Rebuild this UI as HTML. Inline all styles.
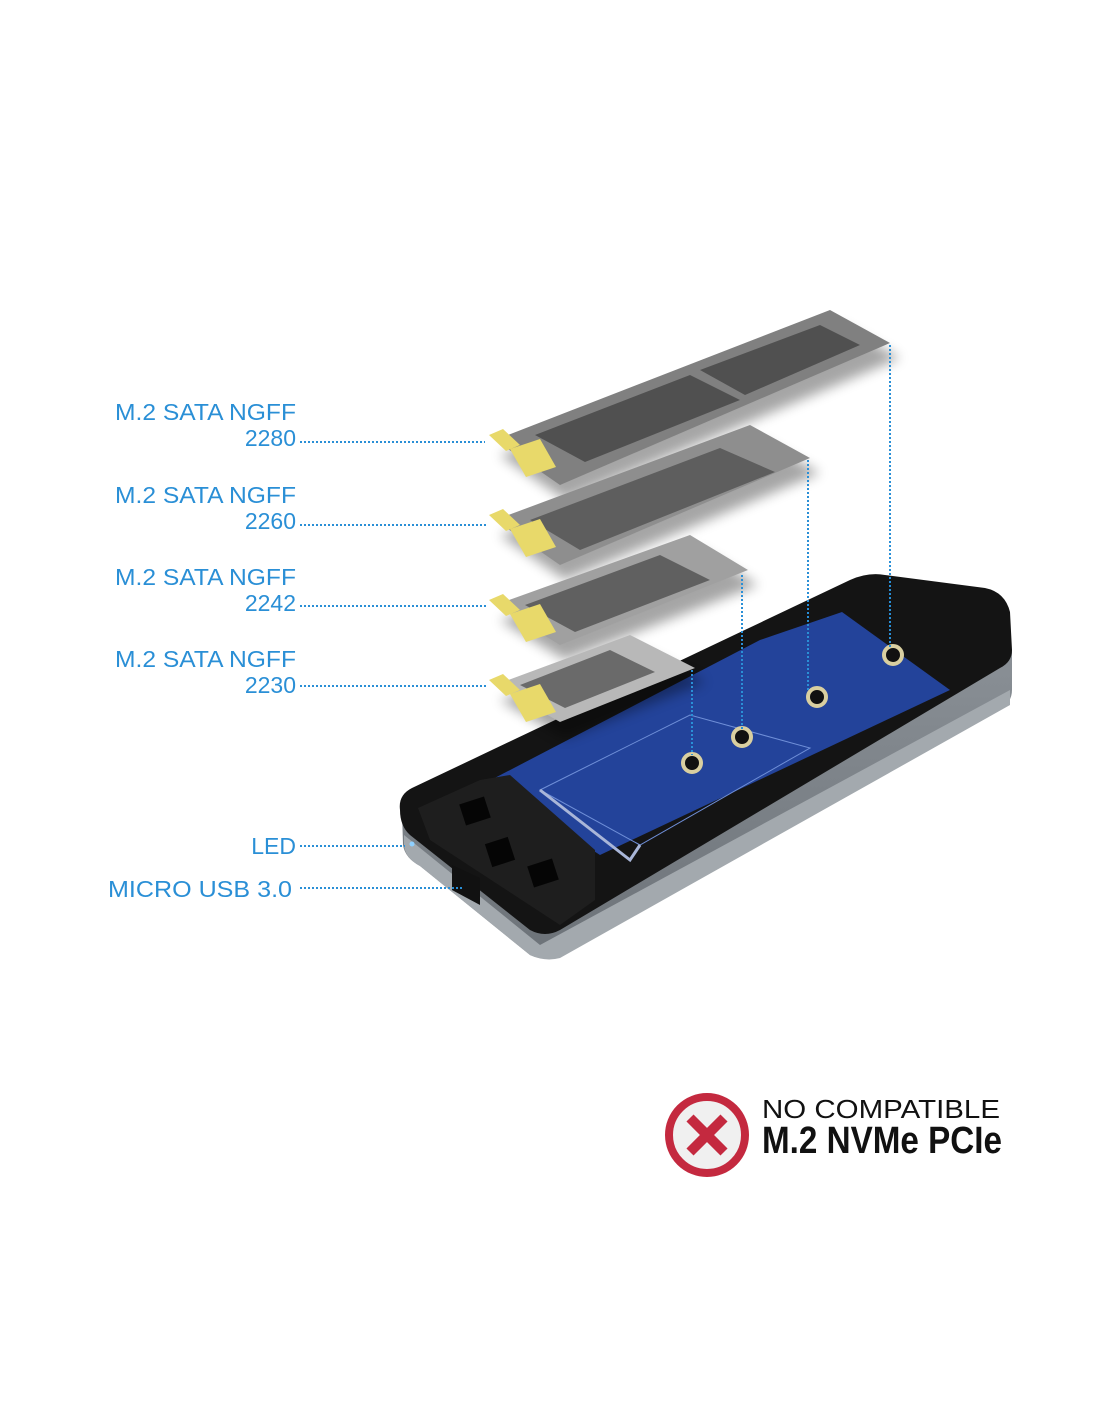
<!DOCTYPE html>
<html><head><meta charset="utf-8"><style>
html,body{margin:0;padding:0;background:#fff;}
svg{display:block}
.l{font-family:"Liberation Sans",sans-serif;font-size:23px;fill:#2a8fd6;}
</style></head><body>
<svg width="1100" height="1422" viewBox="0 0 1100 1422" xmlns="http://www.w3.org/2000/svg">
<defs>
<filter id="sh" x="-20%" y="-20%" width="140%" height="140%"><feGaussianBlur stdDeviation="6"/></filter>
<linearGradient id="side" x1="0" y1="0" x2="0" y2="1"><stop offset="0" stop-color="#8a9096"/><stop offset="1" stop-color="#6c7278"/></linearGradient>
</defs>
<!-- enclosure -->
<path d="M402,812 L403,845 Q405,858 420,866 L530,955 Q545,962 560,955 L1000,710 Q1012,702 1012,690 L1012,650 Z" fill="url(#side)"/>
<path d="M404,835 L540,945 L1010,690 L1010,705 L560,958 Q545,962 530,955 L420,866 Q405,858 404,845 Z" fill="#a3a9ae"/>
<path d="M400,810 Q398,795 412,788 L850,580 Q868,572 885,575 L985,588 Q1005,592 1010,612 L1012,650 Q1012,662 1000,668 L560,930 Q545,938 530,930 L410,835 Q400,826 400,810 Z" fill="#141414"/>
<!-- blue PCB -->
<path d="M487,782 L760,640 L842,612 L950,690 L600,855 Z" fill="#23439a"/>
<path d="M540,790 L690,715 L810,748 L640,845 Z" fill="none" stroke="#6f8fd8" stroke-width="1"/>
<path d="M540,790 L630,860 L640,845" fill="none" stroke="#a9b6d8" stroke-width="3"/>
<!-- left black pad -->
<path d="M418,808 L480,780 L510,775 L595,850 L595,900 L560,925 L430,840 Z" fill="#1e1e1e"/>
<rect x="462" y="800" width="26" height="22" fill="#050505" transform="rotate(-18 475 811)"/>
<rect x="488" y="840" width="24" height="24" fill="#050505" transform="rotate(-18 500 852)"/>
<rect x="530" y="862" width="26" height="22" fill="#050505" transform="rotate(-18 543 873)"/>
<!-- screw holes -->
<g fill="#111" stroke="#d9cfa0" stroke-width="4">
<circle cx="692" cy="763" r="9"/><circle cx="742" cy="737" r="9"/><circle cx="817" cy="697" r="9"/><circle cx="893" cy="655" r="9"/>
</g>
<circle cx="412" cy="844" r="2.5" fill="#8fd0ff"/>
<!-- USB port -->
<path d="M452,865 L480,878 L480,905 L452,890 Z" fill="#111"/>
<!-- cards -->
<g filter="url(#sh)" opacity="0.35" fill="#000">
<polygon points="500,700 640,650 705,682 565,738"/>
<polygon points="500,620 700,550 758,585 565,660"/>
<polygon points="500,535 760,440 820,473 565,580"/>
<polygon points="500,455 840,325 900,358 565,500"/>
</g>
<!-- 2230 -->
<polygon points="495,685 630,635 695,668 560,722" fill="#b8b8b8"/>
<polygon points="520,685 610,650 655,672 565,708" fill="#6a6a6a"/>
<polygon points="489,680 503,674 520,690 506,696" fill="#e8d96a"/>
<polygon points="510,694 540,684 556,712 526,722" fill="#e8d96a"/>
<!-- 2242 -->
<polygon points="495,605 690,535 748,570 560,645" fill="#a0a0a0"/>
<polygon points="525,605 660,555 710,580 575,632" fill="#606060"/>
<polygon points="489,600 503,594 520,610 506,616" fill="#e8d96a"/>
<polygon points="510,614 540,604 556,632 526,642" fill="#e8d96a"/>
<!-- 2260 -->
<polygon points="495,520 750,425 810,458 560,565" fill="#8e8e8e"/>
<polygon points="530,520 720,448 775,472 580,550" fill="#5e5e5e"/>
<polygon points="489,515 503,509 520,525 506,531" fill="#e8d96a"/>
<polygon points="510,529 540,519 556,547 526,557" fill="#e8d96a"/>
<!-- 2280 -->
<polygon points="495,440 830,310 890,343 560,485" fill="#808080"/>
<polygon points="535,435 690,375 740,400 585,462" fill="#505050"/>
<polygon points="700,370 820,325 860,345 745,395" fill="#505050"/>
<polygon points="489,435 503,429 520,445 506,451" fill="#e8d96a"/>
<polygon points="510,449 540,439 556,467 526,477" fill="#e8d96a"/>
<!-- labels -->
<g text-anchor="end">
<text x="296" y="420" class="l" textLength="181" lengthAdjust="spacingAndGlyphs">M.2 SATA NGFF</text><text x="296" y="446" class="l">2280</text>
<text x="296" y="503" class="l" textLength="181" lengthAdjust="spacingAndGlyphs">M.2 SATA NGFF</text><text x="296" y="529" class="l">2260</text>
<text x="296" y="585" class="l" textLength="181" lengthAdjust="spacingAndGlyphs">M.2 SATA NGFF</text><text x="296" y="611" class="l">2242</text>
<text x="296" y="667" class="l" textLength="181" lengthAdjust="spacingAndGlyphs">M.2 SATA NGFF</text><text x="296" y="693" class="l">2230</text>
<text x="296" y="854" class="l">LED</text>
<text x="292" y="897" class="l" textLength="184" lengthAdjust="spacingAndGlyphs">MICRO USB 3.0</text>
</g>
<g stroke="#2a8fd6" stroke-width="2" stroke-dasharray="2,2" fill="none">
<line x1="300" y1="442" x2="485" y2="442"/>
<line x1="300" y1="525" x2="487" y2="525"/>
<line x1="300" y1="606" x2="487" y2="606"/>
<line x1="300" y1="686" x2="487" y2="686"/>
<line x1="300" y1="846" x2="405" y2="846"/>
<line x1="300" y1="888" x2="462" y2="888"/>
<line x1="890" y1="345" x2="890" y2="648"/>
<line x1="808" y1="460" x2="808" y2="690"/>
<line x1="742" y1="575" x2="742" y2="730"/>
<line x1="692" y1="670" x2="692" y2="755"/>
</g>
<!-- badge -->
<circle cx="707" cy="1135" r="38" fill="#f0f0f0" stroke="#c4293f" stroke-width="8"/>
<g stroke="#c4293f" stroke-width="10" stroke-linecap="butt">
<line x1="690" y1="1118" x2="724" y2="1152"/><line x1="724" y1="1118" x2="690" y2="1152"/>
</g>
<text x="762" y="1118" font-family="Liberation Sans,sans-serif" font-size="26" fill="#111" textLength="238" lengthAdjust="spacingAndGlyphs">NO COMPATIBLE</text>
<text x="762" y="1153" font-family="Liberation Sans,sans-serif" font-size="38" font-weight="bold" fill="#111" textLength="240" lengthAdjust="spacingAndGlyphs">M.2 NVMe PCIe</text>
</svg>
</body></html>
